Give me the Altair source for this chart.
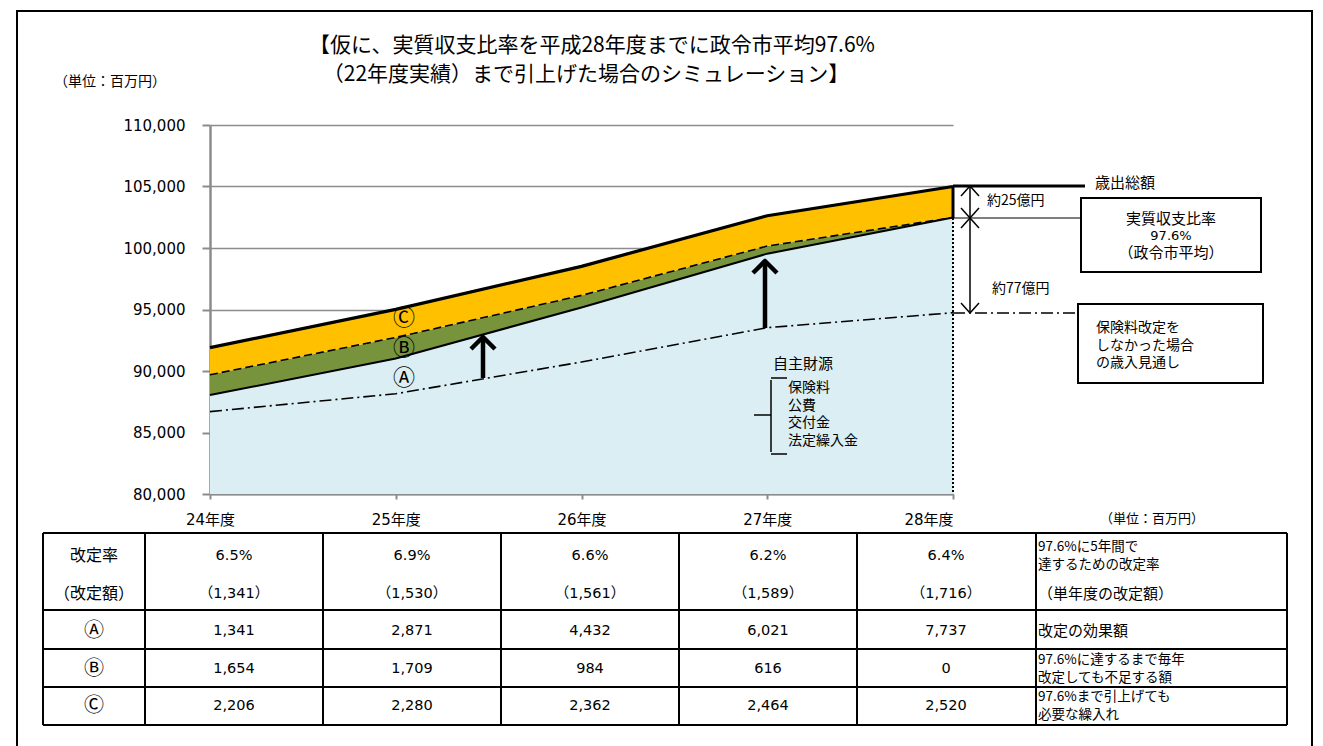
import altair as alt
import pandas as pd

# ---------------- data ----------------
years = [24, 25, 26, 27, 28]
rate = ["6.5%", "6.9%", "6.6%", "6.2%", "6.4%"]
rate_amount = [1341, 1530, 1561, 1589, 1716]
effect_a = [1341, 2871, 4432, 6021, 7737]
short_b = [1654, 1709, 984, 616, 0]
transfer_c = [2206, 2280, 2362, 2464, 2520]
# revenue outlook without premium revision
base_revenue = [86700, 88150, 90730, 93520, 94740]

row_heads = ["改定率", "（改定額）", "Ⓐ", "Ⓑ", "Ⓒ"]
row_desc = [
    "97.6%に5年間で\n達するための改定率",
    "（単年度の改定額）",
    "改定の効果額",
    "97.6%に達するまで毎年\n改定しても不足する額",
    "97.6%まで引上げても\n必要な繰入れ",
]
y_ticks = [80000, 85000, 90000, 95000, 100000, 105000, 110000]

title_lines = ["【仮に、実質収支比率を平成28年度までに政令市平均97.6%",
               "（22年度実績）まで引上げた場合のシミュレーション】"]

JP = "Noto Sans CJK JP"
NUM = "DejaVu Sans, Noto Sans CJK JP"
OX, OY = 210, 125          # plot-area origin on the page
W, H = 743, 369            # plot-area size

df = pd.DataFrame({"year": years, "base": base_revenue})
df["a_top"] = df["base"] + pd.Series(effect_a)
df["b_top"] = df["a_top"] + pd.Series(short_b)
df["c_top"] = df["b_top"] + pd.Series(transfer_c)

xs = alt.Scale(domain=[24, 28], nice=False, zero=False)
ys = alt.Scale(domain=[80000, 110000], nice=False, zero=False)
GRAY = "#8c8c8c"

x_axis = alt.Axis(values=years, labelExpr="datum.value + '年度'", title="",
                  grid=False, tickSize=5, tickWidth=2, tickColor=GRAY,
                  domainColor=GRAY, domainWidth=2, labelFont=NUM, labelFontSize=15,
                  labelColor="black", labelBaseline="middle", labelPadding=20,
                  labelAlign=alt.ConditionalAxisLabelAlign(
                      condition={"test": "datum.value == 28", "value": "right"},
                      value="center"))
y_axis = alt.Axis(values=y_ticks, format=",d", title="", grid=True,
                  gridColor=GRAY, gridWidth=1.6, tickSize=8, tickWidth=2,
                  tickColor=GRAY, domainColor=GRAY, domainWidth=2.5,
                  labelFont="DejaVu Sans", labelFontSize=15, labelColor="black",
                  labelPadding=17)

base = alt.Chart(df)

blue = base.mark_area(color="#DAEEF3", opacity=1).encode(
    x=alt.X("year:Q", scale=xs, axis=x_axis),
    y=alt.Y("a_top:Q", scale=ys, axis=y_axis), y2=alt.datum(80000))
green = base.mark_area(color="#77933C", opacity=1).encode(
    x=alt.X("year:Q", scale=xs, axis=None),
    y=alt.Y("b_top:Q", scale=ys, axis=None), y2="a_top:Q")
orange = base.mark_area(color="#FFC000", opacity=1).encode(
    x=alt.X("year:Q", scale=xs, axis=None),
    y=alt.Y("c_top:Q", scale=ys, axis=None), y2="b_top:Q")


def ln(field, width, dash=None):
    kw = dict(color="black", strokeWidth=width)
    if dash:
        kw["strokeDash"] = dash
    return base.mark_line(**kw).encode(
        x=alt.X("year:Q", scale=xs, axis=None),
        y=alt.Y(f"{field}:Q", scale=ys, axis=None))


main = [blue, green, orange,
        ln("a_top", 2), ln("b_top", 1.6, [8, 4]), ln("c_top", 3.2),
        ln("base", 1.6, [12, 4, 2, 4])]

# ---------------- table ----------------
trows = []
for i, yv in enumerate(years):
    trows.append({"year": yv, "row": 0, "t": rate[i]})
    trows.append({"year": yv, "row": 1, "t": f"（{rate_amount[i]:,}）"})
    trows.append({"year": yv, "row": 2, "t": f"{effect_a[i]:,}"})
    trows.append({"year": yv, "row": 3, "t": f"{short_b[i]:,}"})
    trows.append({"year": yv, "row": 4, "t": f"{transfer_c[i]:,}"})
tdf = pd.DataFrame(trows)
hdf = pd.DataFrame({"row": list(range(5)), "head": row_heads, "desc": row_desc})

tx = alt.Scale(domain=[24, 28], range=[234 - OX, 946 - OX], nice=False, zero=False)
ty = alt.Scale(domain=[0, 4], range=[556 - OY, 706 - OY], nice=False, zero=False)

cells = alt.Chart(tdf).mark_text(font=NUM, fontSize=14.5, color="black").encode(
    x=alt.X("year:Q", scale=tx, axis=None),
    y=alt.Y("row:Q", scale=ty, axis=None), text="t:N")
heads = alt.Chart(hdf).transform_filter("datum.row < 2").mark_text(
    font=JP, fontSize=16, color="black").encode(
    x=alt.value(94 - OX), y=alt.Y("row:Q", scale=ty, axis=None), text="head:N")
heads_c = alt.Chart(hdf).transform_filter("datum.row >= 2").mark_text(
    font=JP, fontSize=20, color="black").encode(
    x=alt.value(94 - OX), y=alt.Y("row:Q", scale=ty, axis=None), text="head:N")
desc1 = alt.Chart(hdf).transform_filter("indexof(datum.desc, '\\n') < 0").mark_text(
    font=JP, fontSize=15, color="black", align="left").encode(
    x=alt.value(1038 - OX), y=alt.Y("row:Q", scale=ty, axis=None), text="desc:N")
desc2 = alt.Chart(hdf).transform_filter("indexof(datum.desc, '\\n') >= 0").mark_text(
    font=JP, fontSize=13.5, color="black", align="left", lineBreak="\n",
    lineHeight=18, dy=-9).encode(
    x=alt.value(1038 - OX), y=alt.Y("row:Q", scale=ty, axis=None), text="desc:N")
table = [cells, heads, heads_c, desc1, desc2]

# ---------------- annotations ----------------
one = pd.DataFrame({"a": [0]})


def txt(text, x, y, size=14, align="left", baseline="middle", weight="normal",
        lh=None, font=JP):
    kw = dict(align=align, baseline=baseline, fontSize=size, font=font,
              fontWeight=weight, color="black", lineBreak="\n")
    if lh:
        kw["lineHeight"] = lh
    return alt.Chart(pd.DataFrame({"t": [text]})).mark_text(**kw).encode(
        text="t:N", x=alt.value(x - OX), y=alt.value(y - OY))


def seg(x1, y1, x2, y2, width=2, dash=None, color="black"):
    kw = dict(color=color, strokeWidth=width)
    if dash:
        kw["strokeDash"] = dash
    return alt.Chart(one).mark_rule(**kw).encode(
        x=alt.value(x1 - OX), x2=alt.value(x2 - OX),
        y=alt.value(y1 - OY), y2=alt.value(y2 - OY))


def box(x1, y1, x2, y2, width=2, fill="white"):
    return alt.Chart(one).mark_rect(stroke="black", strokeWidth=width, fill=fill).encode(
        x=alt.value(x1 - OX), x2=alt.value(x2 - OX),
        y=alt.value(y1 - OY), y2=alt.value(y2 - OY))


ann = []
# outer frame
ann.append(alt.Chart(one).mark_rect(stroke="black", strokeWidth=2, fillOpacity=0).encode(
    x=alt.value(17 - OX), x2=alt.value(1312 - OX), y=alt.value(11 - OY), y2=alt.value(770 - OY)))
# titles
ann.append(txt(title_lines[0], 592, 46, size=21, align="center"))
ann.append(txt(title_lines[1], 586, 74.5, size=21, align="center"))
ann.append(txt("（単位：百万円）", 110, 82, size=14, align="center"))
ann.append(txt("（単位：百万円）", 1152, 519, size=13, align="center"))

# right edge of plot
ann.append(seg(953, 186, 953, 218, width=3))
ann.append(seg(953, 218, 953, 494, width=2, dash=[2, 2]))
ann.append(seg(953, 186, 1085, 186, width=3))
ann.append(txt("歳出総額", 1095, 183, size=15))
ann.append(seg(953, 218, 1081, 218, width=1.2))
ann.append(seg(953, 313, 1078, 313, width=1.6, dash=[12, 4, 2, 4]))

# double arrows
ax = 970
for (t, b) in [(186, 218), (218, 313)]:
    ann.append(seg(ax, t, ax, b, width=1.5))
    ann.append(seg(ax - 9, t + 10, ax, t, width=1.5))
    ann.append(seg(ax + 9, t + 10, ax, t, width=1.5))
    ann.append(seg(ax - 9, b - 10, ax, b, width=1.5))
    ann.append(seg(ax + 9, b - 10, ax, b, width=1.5))
ann.append(txt("約25億円", 987, 201, size=14))
ann.append(txt("約77億円", 992, 289, size=14))

# boxes
ann.append(box(1081, 198, 1261, 272))
ann.append(txt("実質収支比率", 1171, 219, size=15, align="center"))
ann.append(txt("97.6%", 1171, 236, size=13, align="center", font=NUM))
ann.append(txt("（政令市平均）", 1171, 253, size=15, align="center"))
ann.append(box(1078, 304, 1263, 383))
ann.append(txt("保険料改定を\nしなかった場合\nの歳入見通し", 1096, 328, size=14, lh=17.5))

# thick up arrows
for (x, b, t) in [(483, 378, 337), (765, 328, 261)]:
    ann.append(seg(x, b, x, t + 2, width=4.5))
    ann.append(seg(x - 12, t + 12, x + 1, t - 1, width=4.5))
    ann.append(seg(x + 12, t + 12, x - 1, t - 1, width=4.5))

# circled labels
ann.append(txt("Ⓒ", 404, 318, size=22, align="center"))
ann.append(txt("Ⓑ", 404, 348, size=22, align="center"))
ann.append(txt("Ⓐ", 404, 378, size=22, align="center"))

# 自主財源 + brace
ann.append(txt("自主財源", 773, 364, size=15))
ann.append(txt("保険料\n公費\n交付金\n法定繰入金", 788, 388, size=14, lh=17.7))
ann.append(seg(771, 380, 771, 452, width=1.5))
ann.append(seg(771, 378, 787, 378, width=1.5))
ann.append(seg(771, 454, 787, 454, width=1.5))
ann.append(seg(754, 415, 771, 415, width=1.5))

# table grid
for yy in [533, 610, 649, 687, 725]:
    ann.append(seg(43, yy, 1287, yy, width=2))
for xx in [43, 145, 323, 501, 679, 857, 1036, 1287]:
    ann.append(seg(xx, 533, xx, 725, width=2))

chart = alt.layer(*main, *table, *ann).resolve_scale(
    x="independent", y="independent"
).properties(
    width=W, height=H,
    padding={"left": OX, "top": OY, "right": 1323 - OX - W, "bottom": 746 - OY - H},
    autosize=alt.AutoSizeParams(type="none"),
    background="white",
).configure_view(strokeWidth=0)

chart.save("out.html", embed_options={"renderer": "svg", "actions": False})
